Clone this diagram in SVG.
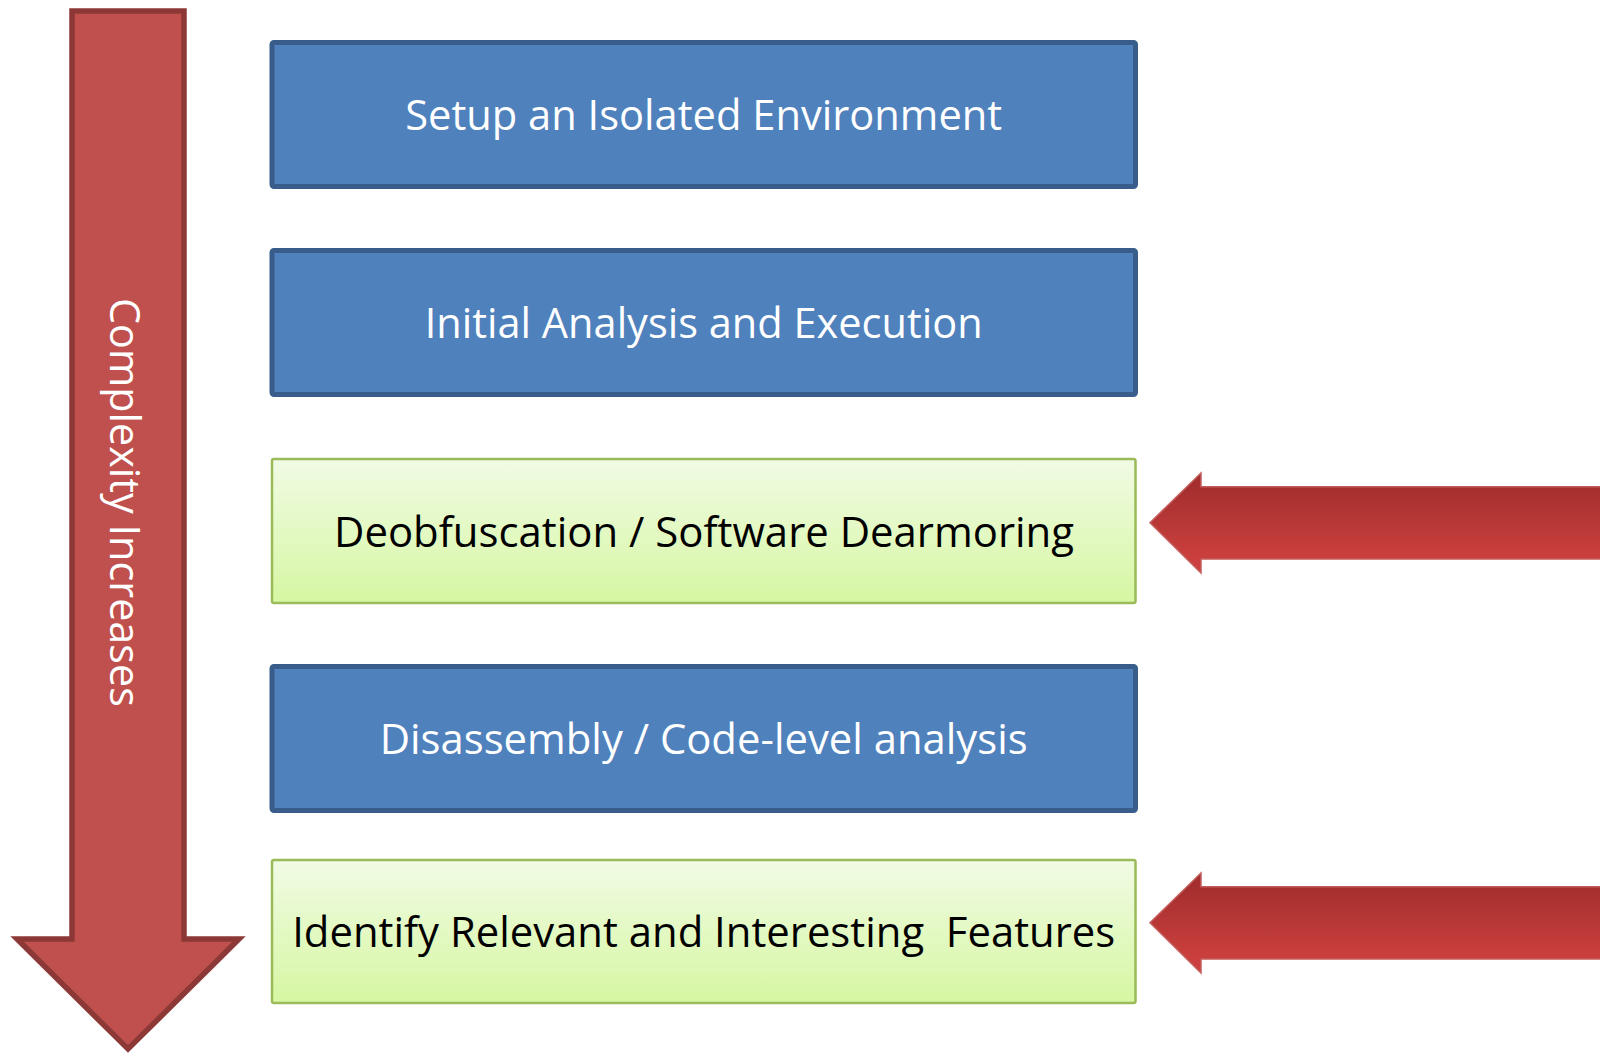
<svg xmlns="http://www.w3.org/2000/svg" width="1600" height="1054" viewBox="0 0 1600 1054">
  <defs>
    <linearGradient id="greenFill" x1="0" y1="0" x2="0" y2="1">
      <stop offset="0" stop-color="#f1fbe5"/>
      <stop offset="1" stop-color="#d6f7a2"/>
    </linearGradient>
    <linearGradient id="pointerFill" x1="0" y1="0" x2="0" y2="1">
      <stop offset="0" stop-color="#a02d2c"/>
      <stop offset="0.14" stop-color="#a52f2e"/>
      <stop offset="0.86" stop-color="#cb403e"/>
      <stop offset="1" stop-color="#cc413f"/>
    </linearGradient>
    <style>
      .blue { fill: #4f81bd; stroke: #385d8a; stroke-width: 5; }
      .green { fill: url(#greenFill); stroke: #9bbb59; stroke-width: 2.5; }
      .label { font-family: "Open Sans", "Noto Sans", "Liberation Sans", sans-serif; font-size: 42px; text-anchor: middle; }
      .light { fill: #ffffff; }
      .dark { fill: #000000; }
      .complexity { fill: #c0504d; stroke: #8c3836; stroke-width: 5.5; stroke-linejoin: miter; }
      .pointer { fill: url(#pointerFill); stroke: #c45e5c; stroke-width: 1.5; }
    </style>
  </defs>

  <rect width="1600" height="1054" fill="#ffffff"/>

  <!-- large downward arrow with its rotated caption -->
  <g id="complexity-arrow">
    <path class="complexity" d="M72,11 H184 V939 H239 L128,1049 L17,939 H72 Z"/>
    <text class="label light" transform="translate(110,502.5) rotate(90)" textLength="409" lengthAdjust="spacingAndGlyphs">Complexity Increases</text>
  </g>

  <!-- process steps -->
  <g id="step-setup">
    <rect class="blue" x="272" y="42.5" width="863.5" height="144" rx="2"/>
    <text class="label light" x="703.7" y="129.5" textLength="597" lengthAdjust="spacingAndGlyphs">Setup an Isolated Environment</text>
  </g>
  <g id="step-initial">
    <rect class="blue" x="272" y="250.5" width="863.5" height="144" rx="2"/>
    <text class="label light" x="703.7" y="337.5" textLength="558" lengthAdjust="spacingAndGlyphs">Initial Analysis and Execution</text>
  </g>
  <g id="step-deobfuscation">
    <rect class="green" x="272" y="459" width="863.5" height="144" rx="2"/>
    <text class="label dark" x="704" y="546.5" textLength="740" lengthAdjust="spacingAndGlyphs">Deobfuscation / Software Dearmoring</text>
  </g>
  <g id="step-disassembly">
    <rect class="blue" x="272" y="666.5" width="863.5" height="144" rx="2"/>
    <text class="label light" x="703.7" y="753.5" textLength="648" lengthAdjust="spacingAndGlyphs">Disassembly / Code-level analysis</text>
  </g>
  <g id="step-features">
    <rect class="green" x="272" y="860" width="863.5" height="143" rx="2"/>
    <text class="label dark" x="703.7" y="946.5" textLength="823" lengthAdjust="spacingAndGlyphs" xml:space="preserve">Identify Relevant and Interesting  Features</text>
  </g>

  <!-- pointers marking the highlighted steps -->
  <g id="connectors">
    <path class="pointer" d="M1602,486.7 H1201 V473 L1150,522.7 L1201,573 V559 H1602 Z"/>
    <path class="pointer" d="M1602,886.7 H1201 V873 L1150,922.7 L1201,973 V959 H1602 Z"/>
  </g>
</svg>
